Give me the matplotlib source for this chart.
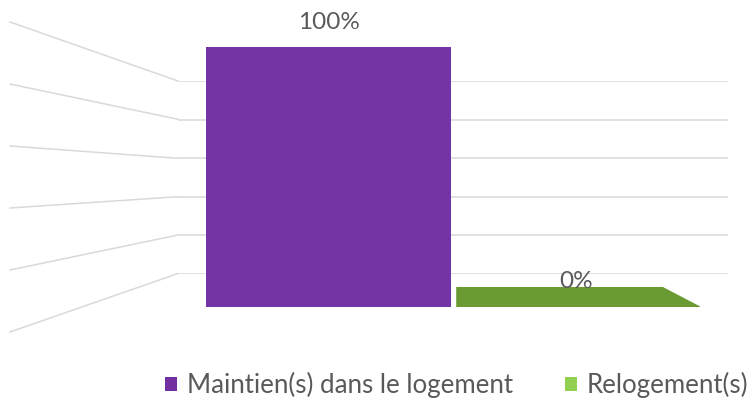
import matplotlib.pyplot as plt
from matplotlib.lines import Line2D
from matplotlib.patches import Patch

# Data
categories = ['Maintien(s) dans le logement', 'Relogement(s)']
values = [100, 0]
labels = ['100%', '0%']
bar_colors = ['#7434A6', '#6A9A32']
legend_colors = ['#7030A0', '#92D050']
grid_ticks = [0, 20, 40, 60, 80, 100]

W, H = 754, 401
fig = plt.figure(figsize=(W / 100, H / 100), dpi=100)
plt.rcParams['font.family'] = ['Lato', 'DejaVu Sans']


def fr(x0, y0, x1, y1):
    # pixel box (top-left origin) -> figure fraction rect
    return [x0 / W, 1 - y1 / H, (x1 - x0) / W, (y1 - y0) / H]


# back wall with gridlines
ax_bg = fig.add_axes(fr(178, 81, 728, 273.5))
ax_bg.set_xlim(0, 1)
ax_bg.set_ylim(0, 100)
for t in grid_ticks:
    ax_bg.plot([0, 1], [t, t], color='#D9D9D9', lw=1.1)
ax_bg.axis('off')

# side wall lines (perspective)
left_y = [332, 270, 208, 146, 84, 22]
back_y = [273.5, 235, 196.7, 158.3, 119.3, 81]
for ly, by in zip(left_y, back_y):
    fig.add_artist(Line2D([10 / W, 178 / W], [1 - ly / H, 1 - by / H],
                          color='#D9D9D9', lw=1.1))

# front bars
ax = fig.add_axes(fr(205, 47, 700, 307))
ax.set_xlim(-0.5, 1.5)
ax.set_ylim(0, 100)
bw = 0.99
bars = ax.bar(range(len(values)), values, width=bw, color=bar_colors, zorder=3)

# floor face of the zero-height bar (3D look)
depth_y = 7.7
slant = 0.155
b = bars[1]
x0 = b.get_x() + 0.01
x1 = x0 + b.get_width()
ax.fill([x0, x1, x1 - slant, x0], [0, 0, depth_y, depth_y],
        color=bar_colors[1], lw=0, zorder=3)

# value labels
ax.text(0, 109.5, labels[0], ha='center', va='center', fontsize=17.5,
        color='#595959', clip_on=False)
ax.text(1, 10, labels[1], ha='center', va='center', fontsize=17.5,
        color='#595959', zorder=4)
ax.axis('off')

# legend
handles = [Patch(facecolor=c, edgecolor='none') for c in legend_colors]
fig.legend(handles, categories, loc='center', bbox_to_anchor=(457 / W, 1 - 385 / H),
           ncol=2, frameon=False, fontsize=18.6, handlelength=0.45,
           handleheight=0.45, handletextpad=0.4, columnspacing=2.0,
           labelcolor='#595959', borderpad=0.2)

fig.savefig('out.png', dpi=100)
